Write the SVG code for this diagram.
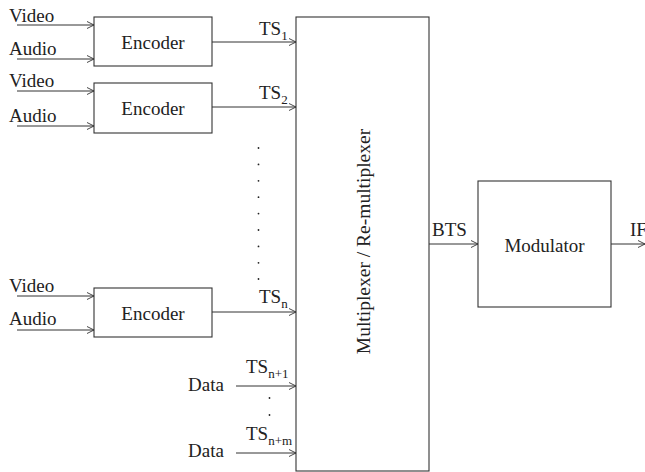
<svg xmlns="http://www.w3.org/2000/svg" width="645" height="472" viewBox="0 0 645 472" font-family="'Liberation Serif', 'DejaVu Serif', serif">
<defs>
<marker id="ah" markerWidth="8" markerHeight="8" refX="7" refY="4" orient="auto" markerUnits="userSpaceOnUse">
<path d="M0,0.5 L7,4 L0,7.5" fill="none" stroke="#333" stroke-width="0.9"/>
</marker>
</defs>
<style>
text{font-size:19px;fill:#222}
.sub{font-size:13px}
.box{fill:#fff;stroke:#333;stroke-width:1.1}
.ln{stroke:#333;stroke-width:1;fill:none;marker-end:url(#ah)}
.dot{fill:#222}
</style>
<rect width="645" height="472" fill="#fff"/>
<g id="connectors">
<line class="ln" x1="17" y1="25" x2="94" y2="25"/>
<line class="ln" x1="17" y1="59" x2="94" y2="59"/>
<line class="ln" x1="17" y1="91" x2="94" y2="91"/>
<line class="ln" x1="17" y1="126" x2="94" y2="126"/>
<line class="ln" x1="17" y1="296" x2="94" y2="296"/>
<line class="ln" x1="17" y1="330" x2="94" y2="330"/>
<line class="ln" x1="212" y1="42" x2="296" y2="42"/>
<line class="ln" x1="212" y1="107" x2="296" y2="107"/>
<line class="ln" x1="212" y1="312" x2="296" y2="312"/>
<line class="ln" x1="236" y1="386" x2="296" y2="386"/>
<line class="ln" x1="236" y1="453" x2="296" y2="453"/>
<line class="ln" x1="429" y1="244" x2="478" y2="244"/>
<line class="ln" x1="611" y1="244" x2="645" y2="244"/>
</g>
<g id="labels">
<text x="9" y="22">Video</text>
<text x="9" y="55">Audio</text>
<text x="9" y="87">Video</text>
<text x="9" y="122">Audio</text>
<text x="9" y="292">Video</text>
<text x="9" y="325">Audio</text>
<text x="259" y="35">TS<tspan class="sub" dy="5">1</tspan></text>
<text x="259" y="99">TS<tspan class="sub" dy="5">2</tspan></text>
<text x="259" y="303">TS<tspan class="sub" dy="5">n</tspan></text>
<text x="246" y="373">TS<tspan class="sub" dy="5">n+1</tspan></text>
<text x="246" y="440">TS<tspan class="sub" dy="5">n+m</tspan></text>
<text x="188" y="391">Data</text>
<text x="188" y="457">Data</text>
<text x="432" y="236">BTS</text>
<text x="630" y="236">IF</text>
</g>
<g id="dots">
<circle class="dot" cx="258.5" cy="148" r="0.9"/>
<circle class="dot" cx="258.5" cy="164.4" r="0.9"/>
<circle class="dot" cx="258.5" cy="180.8" r="0.9"/>
<circle class="dot" cx="258.5" cy="197.2" r="0.9"/>
<circle class="dot" cx="258.5" cy="213.6" r="0.9"/>
<circle class="dot" cx="258.5" cy="230" r="0.9"/>
<circle class="dot" cx="258.5" cy="246.4" r="0.9"/>
<circle class="dot" cx="258.5" cy="262.8" r="0.9"/>
<circle class="dot" cx="258.5" cy="279" r="0.9"/>
<circle class="dot" cx="269.5" cy="398" r="0.9"/>
<circle class="dot" cx="269.5" cy="415" r="0.9"/>
</g>
<g id="enc1">
<rect class="box" x="94" y="17" width="118" height="49"/>
<text x="153" y="49" text-anchor="middle">Encoder</text>
</g>
<g id="enc2">
<rect class="box" x="94" y="83" width="118" height="50"/>
<text x="153" y="115" text-anchor="middle">Encoder</text>
</g>
<g id="enc3">
<rect class="box" x="94" y="288" width="118" height="49"/>
<text x="153" y="320" text-anchor="middle">Encoder</text>
</g>
<g id="mux">
<rect class="box" x="296" y="17" width="133" height="454" stroke="#555" stroke-width="1.4"/>
<text transform="translate(370,241.5) rotate(-90)" x="0" y="0" text-anchor="middle" style="font-size:19.5px">Multiplexer / Re-multiplexer</text>
</g>
<g id="modulator">
<rect class="box" x="478" y="181" width="133" height="126"/>
<text x="544.5" y="252" text-anchor="middle">Modulator</text>
</g>
</svg>
